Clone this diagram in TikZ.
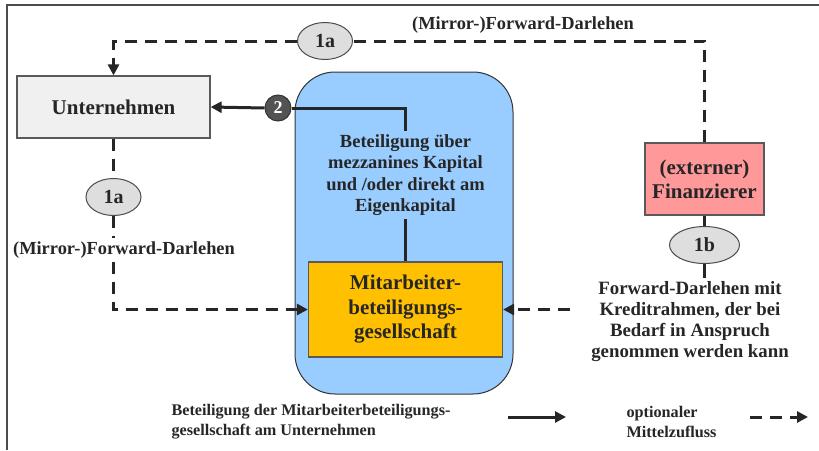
\documentclass[tikz,border=0pt]{standalone}
\usepackage{tikz}
\usepackage{fontspec}
\setmainfont{Liberation Serif}
\usetikzlibrary{arrows.meta,shapes.geometric,positioning}

\definecolor{blaugrund}{RGB}{153,204,255}
\definecolor{orangebox}{RGB}{255,192,0}
\definecolor{rotbox}{RGB}{255,153,153}
\definecolor{hellgrau}{RGB}{240,240,240}
\definecolor{ovalgrau}{RGB}{222,222,222}
\definecolor{linie}{RGB}{38,38,38}

\begin{document}
\begin{tikzpicture}[x=1pt, y=-1pt,
  every node/.style={font=\bfseries, text=linie},
  box/.style={draw=gray!70!black, line width=1.2pt, align=center, inner sep=0pt},
  marke/.style={ellipse, draw=gray!60!black, line width=1pt, fill=ovalgrau, inner sep=0pt,
    minimum width=55pt, minimum height=37pt, font=\bfseries\fontsize{20}{22}\selectfont},
  geld/.style={line width=3pt, draw=linie, dash pattern=on 12pt off 8pt},
  betei/.style={line width=3pt, draw=linie},
  spitze/.style={-{Triangle[length=11pt,width=11pt]}}]

  \useasboundingbox (0,0) rectangle (819,450);
  \draw[line width=2pt, black!70] (7,450) -- (7,5) -- (819,5);

  \node[box, fill=hellgrau, minimum width=193pt, minimum height=62pt,
    font=\bfseries\fontsize{21}{24}\selectfont] (unt) at (113.5,107) {Unternehmen};
  \node[draw=gray!40!black, line width=1pt, rounded corners=40pt, fill=blaugrund,
    minimum width=218pt, minimum height=322pt] (mbg) at (404,233) {};
  \node[box, fill=orangebox, minimum width=194pt, minimum height=95pt,
    font=\bfseries\fontsize{21}{24.5}\selectfont] (mab) at (405.5,309.5)
    {Mitarbeiter-\\beteiligungs-\\gesellschaft};
  \node[box, fill=rotbox, minimum width=119pt, minimum height=72pt,
    font=\bfseries\fontsize{21}{24}\selectfont] (fin) at (704.5,179) {(externer)\\Finanzierer};
  \node[align=center, font=\bfseries\fontsize{18.5}{21.5}\selectfont] (btext) at (405.5,175)
    {Beteiligung über\\mezzanines Kapital\\und /oder direkt am\\Eigenkapital};

  \node[marke] (einsaO) at (325,41) {1a};
  \node[marke] (einsaL) at (113.5,197) {1a};
  \node[marke, minimum width=70pt] (einsb) at (704.5,245) {1b};
  \node[circle, fill=gray!65!black, draw=gray!40!black, line width=1pt, minimum size=26pt,
    inner sep=0pt, text=white, font=\bfseries\fontsize{18}{20}\selectfont] (zwei) at (278,108) {2};

  \node[font=\bfseries\fontsize{18.4}{21}\selectfont] (darlO) at (523,25) {(Mirror-)Forward-Darlehen};
  \node[font=\bfseries\fontsize{18.4}{21}\selectfont] (darlL) at (124,250) {(Mirror-)Forward-Darlehen};
  \node[align=center, font=\bfseries\fontsize{18.8}{21}\selectfont] (kredit) at (690,322)
    {Forward-Darlehen mit\\Kreditrahmen, der bei\\Bedarf in Anspruch\\genommen werden kann};

  \node[anchor=west, align=left, font=\bfseries\fontsize{16.2}{20}\selectfont] (legBet) at (168,422)
    {Beteiligung der Mitarbeiterbeteiligungs-\\gesellschaft am Unternehmen};
  \node[anchor=west, align=left, font=\bfseries\fontsize{16.2}{20}\selectfont] (legOpt) at (623,422)
    {optionaler\\Mittelzufluss};
  \coordinate (lsA) at (508,417);
  \coordinate (lsB) at (566,417);
  \coordinate (ldA) at (750,417);
  \coordinate (ldB) at (808,417);

  % Mittelzufluss
  \draw[geld] (fin.north) |- (einsaO.east);
  \draw[geld, spitze] (einsaO.west) -| (unt.north);
  \draw[geld] (unt.south) -- (einsaL.north);
  \draw[geld] (einsaL.south) -- (einsaL.south |- darlL.north);
  \draw[geld, spitze] (einsaL.south |- darlL.south) |- (mab.west);
  \draw[betei] (fin.south) -- (einsb.north);
  \draw[betei] (einsb.south) -- (einsb.south |- kredit.north);
  \draw[geld, spitze] (mab.east -| kredit.west) ++(-18,0) -- (mab.east);

  % Beteiligung
  \draw[betei] (mab.north) -- (btext.south);
  \draw[betei] (btext.north) |- (zwei.east);
  \draw[betei, spitze] (zwei.west) -- (unt.east);

  % Legende
  \draw[betei, spitze] (lsA) -- (lsB);
  \draw[geld, spitze] (ldA) -- (ldB);

\end{tikzpicture}
\end{document}
